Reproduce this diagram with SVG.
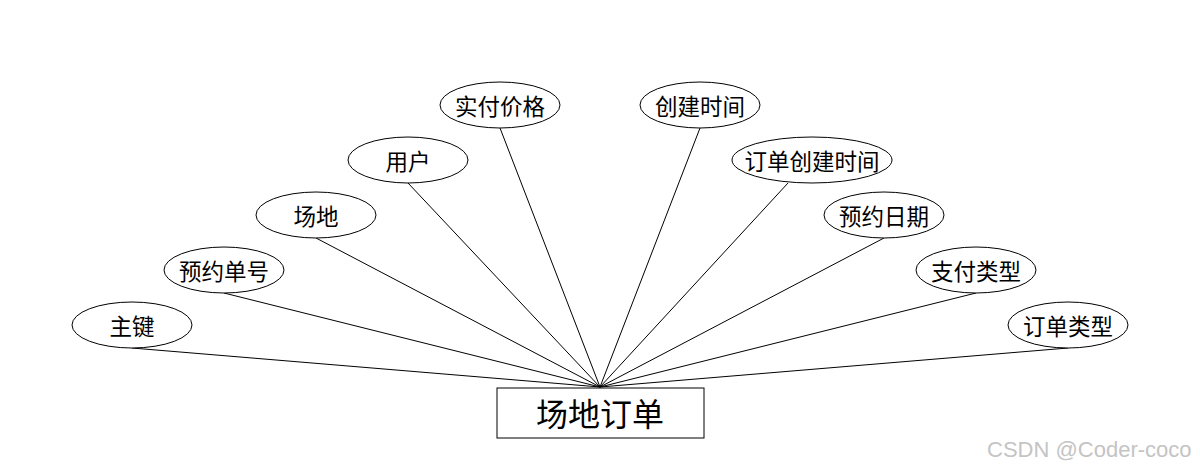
<svg xmlns="http://www.w3.org/2000/svg" width="1200" height="468" viewBox="0 0 1200 468">
<style>
.e{fill:#fff;stroke:#000;stroke-width:1}
.t{font-family:"Noto Sans CJK SC","Liberation Sans",sans-serif;font-size:22.5px;fill:#000;text-anchor:middle;dominant-baseline:central}
.c line{stroke:#000;stroke-width:1}
</style>
<rect width="1200" height="468" fill="#fff"/>
<g class="c" id="connectors">
<line x1="132" y1="348" x2="600" y2="387"/>
<line x1="224" y1="293" x2="600" y2="387"/>
<line x1="316" y1="238" x2="600" y2="387"/>
<line x1="408" y1="183" x2="600" y2="387"/>
<line x1="500" y1="128" x2="600" y2="387"/>
<line x1="700" y1="128" x2="600" y2="387"/>
<line x1="788" y1="183" x2="600" y2="387"/>
<line x1="884" y1="238" x2="600" y2="387"/>
<line x1="976" y1="293" x2="600" y2="387"/>
<line x1="1068" y1="348" x2="600" y2="387"/>
</g>
<g id="n0"><ellipse class="e" cx="132" cy="325" rx="60" ry="23"/><text class="t" x="132" y="325">主键</text></g>
<g id="n1"><ellipse class="e" cx="224" cy="270" rx="60" ry="23"/><text class="t" x="224" y="270">预约单号</text></g>
<g id="n2"><ellipse class="e" cx="316" cy="215" rx="60" ry="23"/><text class="t" x="316" y="215">场地</text></g>
<g id="n3"><ellipse class="e" cx="408" cy="160" rx="60" ry="23"/><text class="t" x="408" y="160">用户</text></g>
<g id="n4"><ellipse class="e" cx="500" cy="105" rx="60" ry="23"/><text class="t" x="500" y="105">实付价格</text></g>
<g id="n5"><ellipse class="e" cx="700" cy="105" rx="60" ry="23"/><text class="t" x="700" y="105">创建时间</text></g>
<g id="n6"><ellipse class="e" cx="812" cy="160" rx="80" ry="23"/><text class="t" x="812" y="160">订单创建时间</text></g>
<g id="n7"><ellipse class="e" cx="884" cy="215" rx="60" ry="23"/><text class="t" x="884" y="215">预约日期</text></g>
<g id="n8"><ellipse class="e" cx="976" cy="270" rx="60" ry="23"/><text class="t" x="976" y="270">支付类型</text></g>
<g id="n9"><ellipse class="e" cx="1068" cy="325" rx="60" ry="23"/><text class="t" x="1068" y="325">订单类型</text></g>
<g id="main"><rect x="497" y="388" width="207" height="50" fill="#fff" stroke="#000" stroke-width="1"/><text class="t" x="600" y="412" style="font-size:32px">场地订单</text></g>
<text x="987" y="457" font-family="Liberation Sans,sans-serif" font-size="22" fill="#c4c4c4">CSDN @Coder-coco</text>
</svg>
